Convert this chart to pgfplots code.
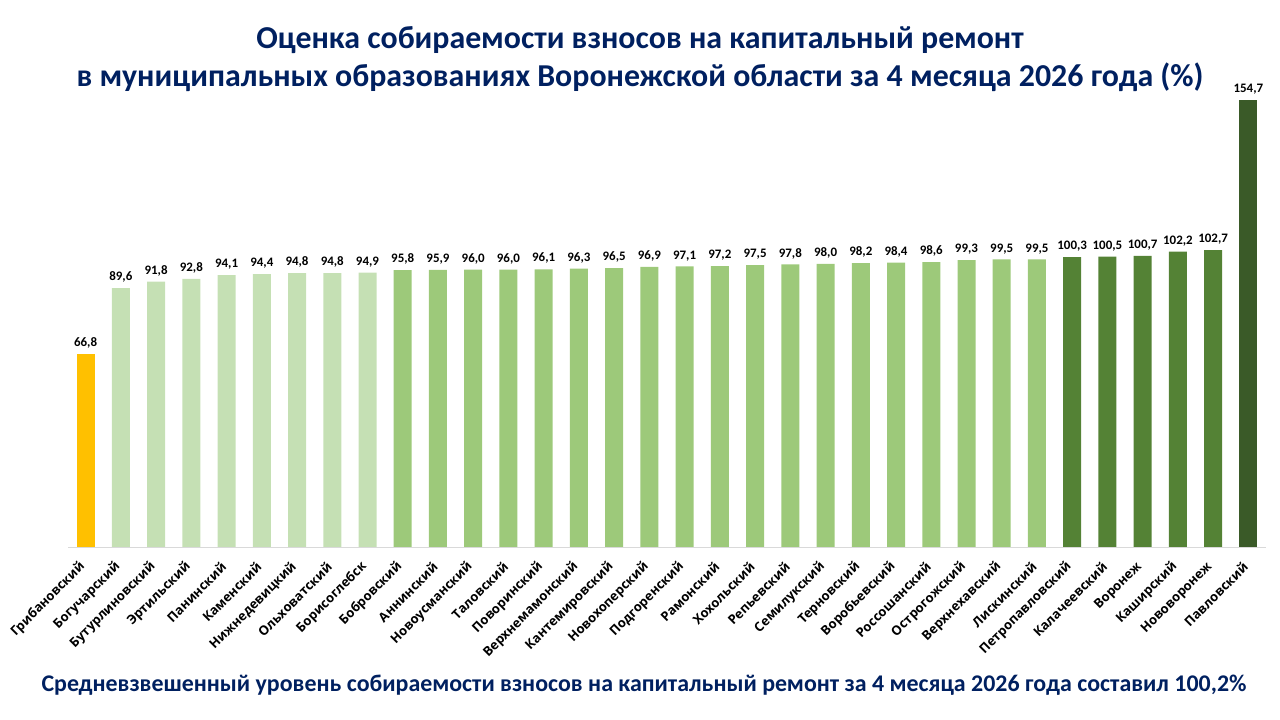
\documentclass[border=0pt]{standalone}
\usepackage{fontspec}
\setmainfont{Carlito}
\newfontfamily\osans{Open Sans}
\usepackage{pgfplots}
\pgfplotsset{compat=1.18}
\definecolor{cyel}{HTML}{FFC000}
\definecolor{clight}{HTML}{C5E0B4}
\definecolor{cmid}{HTML}{9DC97A}
\definecolor{cdark}{HTML}{548235}
\definecolor{cdarkest}{HTML}{3A5A28}
\definecolor{navy}{HTML}{002060}
\begin{document}
\begin{tikzpicture}[x=1bp,y=1bp]
\path[use as bounding box] (0,0) rectangle (1280,720);
\node[font=\fontsize{32}{38}\selectfont\bfseries, text=navy, align=center] at (640,661) {Оценка собираемости взносов на капитальный ремонт\\в муниципальных образованиях Воронежской области за 4 месяца 2026 года (\%)};
\node[font=\fontsize{24}{28}\selectfont\bfseries, text=navy] at (644,35) {Средневзвешенный уровень собираемости взносов на капитальный ремонт за 4 месяца 2026 года составил 100,2\%};
\begin{axis}[
  at={(68bp,173bp)}, anchor=south west,
  scale only axis, width=1198bp, height=462.4bp,
  xmin=-0.5, xmax=33.5, ymin=0, ymax=160,
  ybar, bar shift=0pt, bar width=18bp,
  axis x line*=bottom, axis y line=none,
  x axis line style={draw=black!15, line width=0.8pt, -},
  ytick=\empty,
  xtick={0,...,33},
  major tick length=0pt,
  xticklabels={Грибановский,Богучарский,Бутурлиновский,Эртильский,Панинский,Каменский,Нижнедевицкий,Ольховатский,Борисоглебск,Бобровский,Аннинский,Новоусманский,Таловский,Поворинский,Верхнемамонский,Кантемировский,Новохоперский,Подгоренский,Рамонский,Хохольский,Репьевский,Семилукский,Терновский,Воробьевский,Россошанский,Острогожский,Верхнехавский,Лискинский,Петропавловский,Калачеевский,Воронеж,Каширский,Нововоронеж,Павловский},
  xticklabel style={xshift=-2bp, yshift=-17bp, rotate=45, anchor=east, font=\osans\bfseries\fontsize{13}{15}\selectfont, inner sep=1pt},
  nodes near coords,
  every node near coord/.append style={font=\bfseries\fontsize{13}{15}\selectfont, text=black, yshift=2bp,
    /pgf/number format/.cd, fixed, fixed zerofill, precision=1, use comma, assume math mode=true},
  clip=false,
]
\addplot[fill=cyel, draw=none] coordinates {(0,66.8)};
\addplot[fill=clight, draw=none] coordinates {(1,89.6) (2,91.8) (3,92.8) (4,94.1) (5,94.4) (6,94.8) (7,94.8) (8,94.9)};
\addplot[fill=cmid, draw=none] coordinates {(9,95.8) (10,95.9) (11,96.0) (12,96.0) (13,96.1) (14,96.3) (15,96.5) (16,96.9) (17,97.1) (18,97.2) (19,97.5) (20,97.8) (21,98.0) (22,98.2) (23,98.4) (24,98.6) (25,99.3) (26,99.5) (27,99.5)};
\addplot[fill=cdark, draw=none] coordinates {(28,100.3) (29,100.5) (30,100.7) (31,102.2) (32,102.7)};
\addplot[fill=cdarkest, draw=none] coordinates {(33,154.7)};
\end{axis}
\end{tikzpicture}
\end{document}
